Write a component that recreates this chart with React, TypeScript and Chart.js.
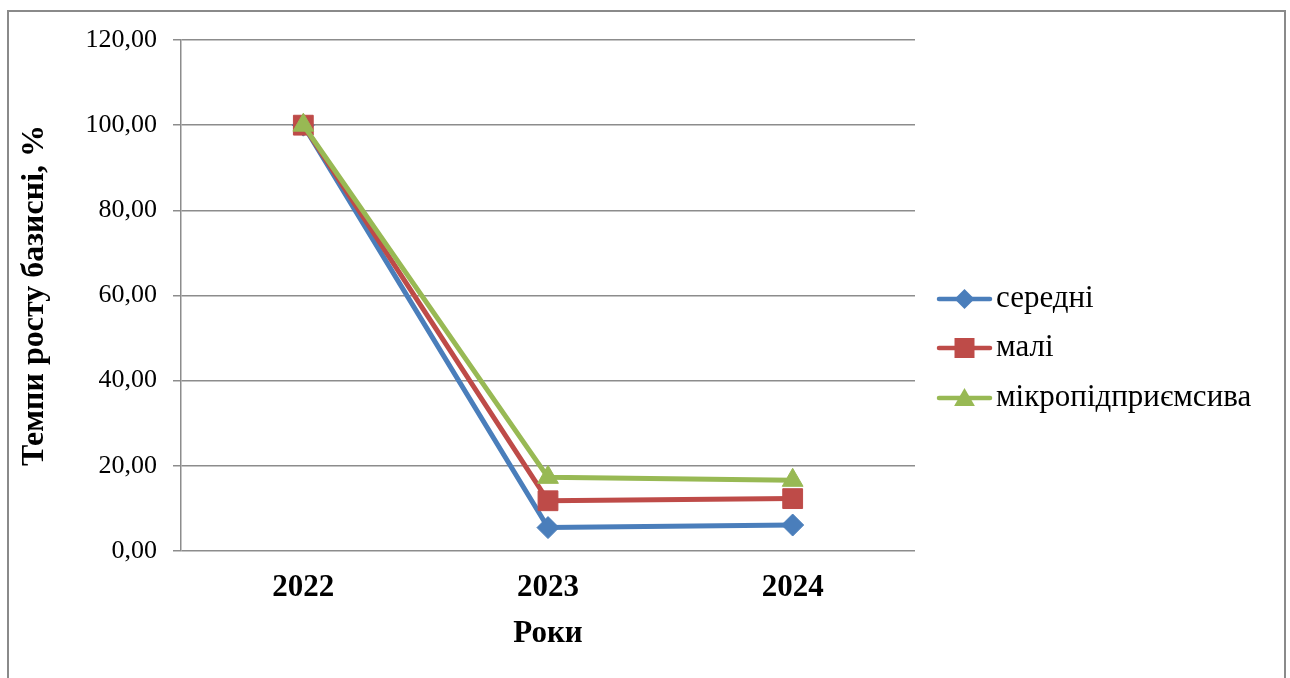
import React, { useEffect, useRef } from "react";
import { Chart, registerables } from "chart.js";

Chart.register(...registerables);

const categories = ["2022", "2023", "2024"];
const seredni = [100, 5.5, 6.1];
const mali = [100, 11.8, 12.3];
const mikro = [100, 17.3, 16.6];
const seriesNames = ["середні", "малі", "мікропідприємсива"];
const yTitle = "Темпи росту базисні, %";
const xTitle = "Роки";

const SERIF = "'Liberation Serif', 'Times New Roman', serif";
const BLUE = "#4A7EBB";
const RED = "#BE4B48";
const GREEN = "#98B954";
const GRID = "#8C8C8C";

const legendItems = [
  { label: seriesNames[0], color: BLUE, style: "diamond" },
  { label: seriesNames[1], color: RED, style: "square" },
  { label: seriesNames[2], color: GREEN, style: "triangle" },
];

const framePlugin = {
  id: "frame",
  beforeDraw(chart: any) {
    const ctx = chart.ctx;
    ctx.save();
    ctx.fillStyle = "#ffffff";
    ctx.fillRect(0, 0, chart.width, chart.height);
    ctx.strokeStyle = "#8A8A8A";
    ctx.lineWidth = 2;
    ctx.strokeRect(8, 11, 1277, 700);
    ctx.restore();
  },
};

function drawMarker(ctx: CanvasRenderingContext2D, style: string, x: number, y: number) {
  ctx.beginPath();
  if (style === "diamond") {
    const r = 10;
    ctx.moveTo(x - r, y);
    ctx.lineTo(x, y - r);
    ctx.lineTo(x + r, y);
    ctx.lineTo(x, y + r);
  } else if (style === "square") {
    const s = 10;
    ctx.rect(x - s, y - s, 2 * s, 2 * s);
  } else {
    const r = 12;
    ctx.moveTo(x, y - r);
    ctx.lineTo(x + r * Math.sin((2 * Math.PI) / 3), y - r * Math.cos((2 * Math.PI) / 3));
    ctx.lineTo(x + r * Math.sin((4 * Math.PI) / 3), y - r * Math.cos((4 * Math.PI) / 3));
  }
  ctx.closePath();
  ctx.fill();
}

const legendPlugin = {
  id: "customLegend",
  afterDraw(chart: any) {
    const ctx = chart.ctx;
    ctx.save();
    const x0 = 939;
    const x1 = 990;
    const ys = [299, 348, 398];
    legendItems.forEach((it, i) => {
      const y = ys[i];
      ctx.strokeStyle = it.color;
      ctx.lineWidth = 4.5;
      ctx.lineCap = "round";
      ctx.beginPath();
      ctx.moveTo(x0, y);
      ctx.lineTo(x1, y);
      ctx.stroke();
      ctx.fillStyle = it.color;
      drawMarker(ctx, it.style, (x0 + x1) / 2, it.style === "triangle" ? y + 2 : y);
      ctx.fillStyle = "#000000";
      ctx.font = `31px ${SERIF}`;
      ctx.textAlign = "left";
      ctx.textBaseline = "middle";
      ctx.fillText(it.label, 996, y);
    });
    ctx.restore();
  },
};

export default function App() {
  const ref = useRef<HTMLCanvasElement | null>(null);

  useEffect(() => {
    document.body.style.margin = "0";
    const canvas = ref.current;
    if (!canvas) return;
    const chart = new Chart(canvas, {
      type: "line",
      data: {
        labels: categories,
        datasets: [
          {
            label: seriesNames[0],
            data: seredni,
            borderColor: BLUE,
            backgroundColor: BLUE,
            borderWidth: 5,
            pointStyle: "rectRot",
            pointRadius: 11,
            pointBorderWidth: 1,
            order: 3,
          },
          {
            label: seriesNames[1],
            data: mali,
            borderColor: RED,
            backgroundColor: RED,
            borderWidth: 5,
            pointStyle: "rect",
            pointRadius: 14,
            pointBorderWidth: 1,
            order: 2,
          },
          {
            label: seriesNames[2],
            data: mikro,
            borderColor: GREEN,
            backgroundColor: GREEN,
            borderWidth: 5,
            pointStyle: "triangle",
            pointRadius: 12,
            pointBorderWidth: 1,
            order: 1,
          },
        ],
      },
      options: {
        animation: false,
        responsive: false,
        events: [],
        layout: { padding: { left: 0, right: 375, top: 40, bottom: 0 } },
        plugins: {
          legend: { display: false },
          tooltip: { enabled: false },
        },
        scales: {
          x: {
            type: "category",
            offset: true,
            grid: { display: false, drawTicks: false },
            border: { display: false },
            ticks: {
              color: "#000",
              font: { family: SERIF, size: 31, weight: "bold" },
              padding: 18,
              maxRotation: 0,
            },
            title: {
              display: true,
              text: xTitle,
              color: "#000",
              font: { family: SERIF, size: 31, weight: "bold" },
              padding: { top: 0, bottom: 25 },
            },
            afterFit(scale: any) {
              scale.height = 127;
            },
          },
          y: {
            min: 0,
            max: 120,
            ticks: {
              stepSize: 20,
              color: "#000",
              font: { family: SERIF, size: 26 },
              padding: 16,
              callback: (v: any) => Number(v).toFixed(2).replace(".", ","),
            },
            grid: { color: GRID, lineWidth: 1.5, tickLength: 8, drawTicks: true },
            border: { display: true, color: GRID, width: 1.5 },
            title: {
              display: true,
              text: yTitle,
              color: "#000",
              font: { family: SERIF, size: 32, weight: "bold" },
              padding: { top: 16, bottom: 0 },
            },
            afterFit(scale: any) {
              scale.width = 181;
            },
          },
        },
      },
      plugins: [framePlugin, legendPlugin],
    });
    return () => chart.destroy();
  }, []);

  return <canvas ref={ref} width={1290} height={678} style={{ display: "block" }} />;
}
